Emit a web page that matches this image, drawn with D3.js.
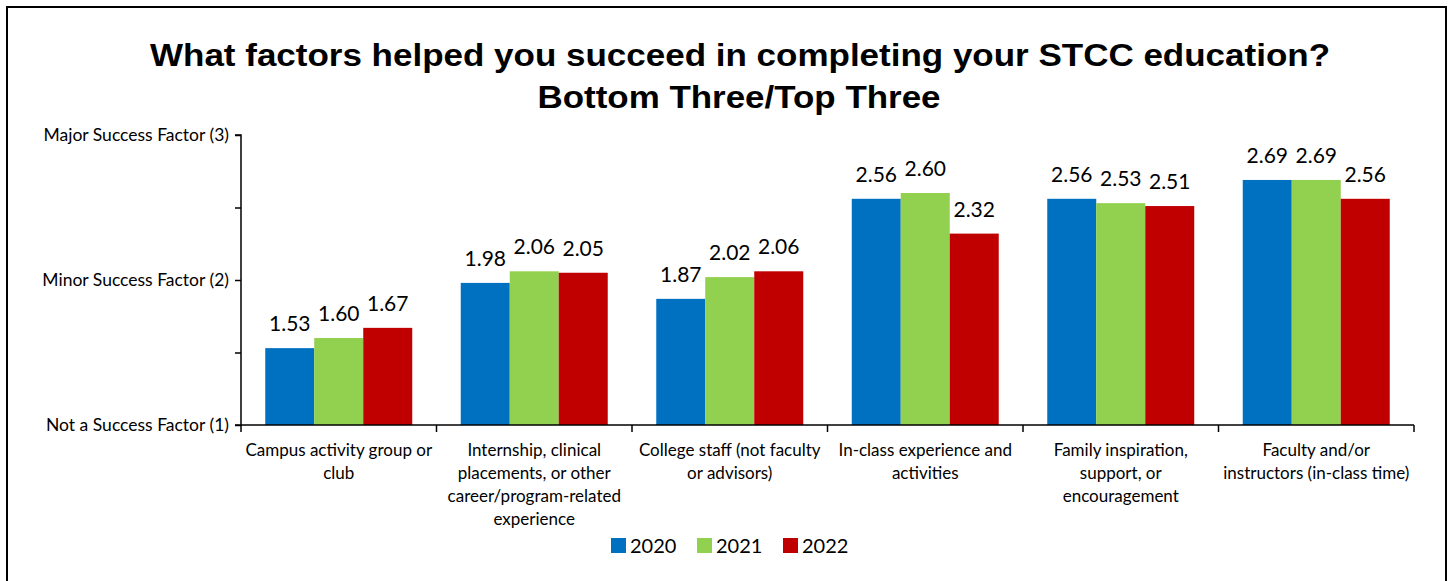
<!DOCTYPE html>
<html>
<head>
<meta charset="utf-8">
<script src="https://cdn.jsdelivr.net/npm/d3@7"></script>
<style>
  html, body { margin: 0; padding: 0; background: #fff; }
  svg { display: block; }
</style>
</head>
<body>
<svg id="chart" width="1450" height="581"></svg>
<script>
// ---- data ----
const titleLines = ["What factors helped you succeed in completing your STCC education?", "Bottom Three/Top Three"];
const categories = [
  "Campus activity group or club",
  "Internship, clinical placements, or other career/program-related experience",
  "College staff (not faculty or advisors)",
  "In-class experience and activities",
  "Family inspiration, support, or encouragement",
  "Faculty and/or instructors (in-class time)"
];
const categoryLines = [
  ["Campus activity group or", "club"],
  ["Internship, clinical", "placements, or other", "career/program-related", "experience"],
  ["College staff (not faculty", "or advisors)"],
  ["In-class experience and", "activities"],
  ["Family inspiration,", "support, or", "encouragement"],
  ["Faculty and/or", "instructors (in-class time)"]
];
const seriesNames = ["2020", "2021", "2022"];
const values2020 = [1.53, 1.98, 1.87, 2.56, 2.56, 2.69];
const values2021 = [1.60, 2.06, 2.02, 2.60, 2.53, 2.69];
const values2022 = [1.67, 2.05, 2.06, 2.32, 2.51, 2.56];
const seriesColors = ["#0070C0", "#92D050", "#C00000"];
const yTickValues = [1, 1.5, 2, 2.5, 3];
const yTickLabels = {1: "Not a Success Factor (1)", 2: "Minor Success Factor (2)", 3: "Major Success Factor (3)"};

const seriesValues = [values2020, values2021, values2022];

// ---- layout ----
const svg = d3.select("#chart");
const font = "Lato, 'Open Sans', sans-serif";
const plot = {left: 241, right: 1414, top: 135, bottom: 425};

svg.append("rect")
  .attr("x", 7).attr("y", 7).attr("width", 1439).attr("height", 600)
  .attr("fill", "#fff").attr("stroke", "#000").attr("stroke-width", 2);

// title
svg.append("text")
  .attr("x", 740).attr("y", 66)
  .attr("text-anchor", "middle")
  .attr("font-family", "'Liberation Sans', Arial, sans-serif")
  .attr("font-weight", "bold").attr("font-size", 32)
  .attr("textLength", 1180).attr("lengthAdjust", "spacingAndGlyphs")
  .text(titleLines[0]);
svg.append("text")
  .attr("x", 739).attr("y", 108)
  .attr("text-anchor", "middle")
  .attr("font-family", "'Liberation Sans', Arial, sans-serif")
  .attr("font-weight", "bold").attr("font-size", 32)
  .attr("textLength", 403).attr("lengthAdjust", "spacingAndGlyphs")
  .text(titleLines[1]);

const x0 = d3.scaleBand().domain(categories).range([plot.left, plot.right]).paddingInner(0).paddingOuter(0);
const x1 = d3.scaleBand().domain(seriesNames).range([0, x0.bandwidth()]).paddingInner(0).paddingOuter(0.495);
const y = d3.scaleLinear().domain([1, 3]).range([plot.bottom, plot.top]);

// bars
const groups = svg.append("g").selectAll("g")
  .data(categories)
  .join("g")
  .attr("transform", d => `translate(${x0(d)},0)`);

groups.selectAll("rect")
  .data((c, i) => seriesNames.map((s, j) => ({s, j, v: seriesValues[j][i]})))
  .join("rect")
  .attr("x", d => x1(d.s))
  .attr("y", d => y(d.v))
  .attr("width", x1.bandwidth())
  .attr("height", d => y(1) - y(d.v))
  .attr("fill", d => seriesColors[d.j]);

groups.selectAll("text.val")
  .data((c, i) => seriesNames.map((s, j) => ({s, j, v: seriesValues[j][i]})))
  .join("text")
  .attr("class", "val")
  .attr("x", d => x1(d.s) + x1.bandwidth() / 2)
  .attr("y", d => y(d.v) - 17)
  .attr("text-anchor", "middle")
  .attr("font-family", font).attr("font-size", 21).attr("fill", "#000")
  .text(d => d.v.toFixed(2));

// y axis
const yAxis = d3.axisLeft(y).tickValues(yTickValues).tickSize(6).tickFormat(d => yTickLabels[d] || "");
const gy = svg.append("g").attr("transform", `translate(${plot.left},0)`).call(yAxis);
gy.select(".domain").attr("stroke", "#000").attr("stroke-width", 1.5).attr("d", `M-6,${plot.top}H0V${plot.bottom}H-6`);
gy.selectAll(".tick line").attr("stroke", "#000").attr("stroke-width", 1.5);
gy.selectAll(".tick text").attr("font-family", font).attr("font-size", 17.5).attr("fill", "#000").attr("x", -12);

// x axis
const xAxis = d3.axisBottom(x0).tickSize(0).tickFormat("");
const gx = svg.append("g").attr("transform", `translate(0,${plot.bottom})`).call(xAxis);
gx.select(".domain").attr("stroke", "#000").attr("stroke-width", 1.5).attr("d", `M${plot.left},0H${plot.right}`);
const boundaries = categories.map(c => x0(c)).concat([plot.right]);
gx.selectAll("line.bound").data(boundaries).join("line")
  .attr("class", "bound")
  .attr("x1", d => d).attr("x2", d => d).attr("y1", 0).attr("y2", 7)
  .attr("stroke", "#000").attr("stroke-width", 1.5);

// category labels
categories.forEach((c, i) => {
  const t = svg.append("text")
    .attr("text-anchor", "middle")
    .attr("font-family", font).attr("font-size", 17).attr("fill", "#000");
  categoryLines[i].forEach((line, k) => {
    t.append("tspan").attr("x", x0(c) + x0.bandwidth() / 2).attr("y", 456 + k * 23).text(line);
  });
});

// legend
const legendX = [611, 697, 783];
const lg = svg.append("g").selectAll("g").data(seriesNames).join("g")
  .attr("transform", (d, i) => `translate(${legendX[i]},538)`);
lg.append("rect").attr("width", 15).attr("height", 15).attr("fill", (d, i) => seriesColors[i]);
lg.append("text").attr("x", 19).attr("y", 15)
  .attr("font-family", font).attr("font-size", 20).attr("fill", "#000").text(d => d);
</script>
</body>
</html>
